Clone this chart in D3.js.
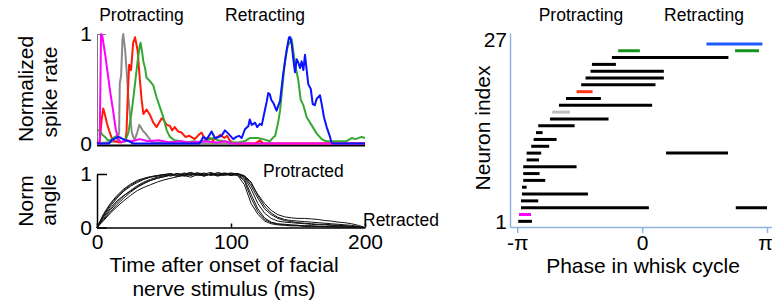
<!DOCTYPE html>
<html>
<head>
<meta charset="utf-8">
<script src="https://cdn.jsdelivr.net/npm/d3@7"></script>
<style>
    body { margin: 0; background: white; }
    svg { font-family: 'Liberation Sans', Arial, sans-serif; }
    .lab { font-size: 21px; fill: black; }
    .note { font-size: 17.5px; fill: black; }
</style>
</head>
<body>
<div id="chart"></div>
<script>
// spike rate traces, [time ms, normalized rate]
var rateMagenta = [[0,0],[2,0],[3,1.0],[4,0.98],[6,0.82],[8,0.64],[10,0.46],[12,0.3],[14,0.13],[16,0.03],[18,0.01],[22,0.03],[26,0.02],[32,0.04],[38,0.02],[46,0.03],[54,0.01],[62,0.02],[70,0.01],[80,0.02],[90,0.01],[96,0.02],[100,0],[200,0]]
var rateGray = [[0,0],[15,0.02],[16.5,0.1],[17,0.55],[18,0.62],[19,0.95],[19.6,1.0],[21,0.85],[22.5,0.6],[23.5,0.4],[25,0.22],[26,0.1],[28,0.03],[30,0.1],[31.6,0.17],[34,0.12],[37,0.08],[41,0.01],[50,0.01],[60,0.02],[70,0.01],[80,0],[200,0]]
var rateRed = [[0,0],[2,0.02],[3.5,0.22],[4.7,0.32],[6,0.26],[7.5,0.18],[9,0.12],[11,0.05],[13,0.02],[16,0.01],[21,0.02],[22,0.1],[23,0.45],[24,0.72],[25.4,0.67],[27,0.92],[28.4,0.97],[30.3,0.85],[32,0.58],[33.3,0.4],[34.6,0.27],[37,0.31],[39.6,0.26],[42,0.19],[44.5,0.15],[48.3,0.23],[50,0.21],[52,0.17],[54.5,0.16],[56,0.12],[58,0.15],[60.5,0.11],[63,0.1],[66,0.06],[69,0.07],[73,0.04],[76,0.08],[78,0.1],[80.6,0.04],[84,0.05],[86.6,0.03],[90,0.06],[92,0.08],[95,0.05],[97,0.07],[99,0.03],[101,0.01],[105,0],[118,0],[121.6,0.03],[124,0],[200,0]]
var rateGreen = [[0,0.12],[2,0.12],[4,0.08],[6,0.06],[8,0.03],[10,0.03],[12,0.05],[14.7,0.07],[16,0.04],[18,0.01],[21,0.02],[23.4,0.1],[26,0.3],[28.4,0.55],[30.3,0.75],[32,0.9],[32.5,0.92],[33.5,0.85],[34.6,0.75],[36,0.68],[37,0.6],[39.5,0.57],[42,0.53],[44.5,0.42],[47,0.33],[49.5,0.24],[52,0.12],[54.5,0.06],[58,0.03],[62,0.02],[66,0.01],[72,0.02],[77,0.01],[82,0.03],[86.8,0.05],[90,0.03],[95,0.02],[100,0.01],[105,0.01],[110,0.02],[114,0.05],[117,0.05],[120,0.05],[124,0.04],[129,0.02],[131,0.05],[133,0.07],[135.3,0.2],[136.6,0.3],[137.8,0.45],[139,0.6],[140.3,0.75],[141.5,0.84],[142.5,0.9],[144,0.92],[145.3,0.95],[146.5,0.84],[147.8,0.73],[149,0.65],[150.2,0.58],[152,0.4],[154,0.35],[156.5,0.24],[160,0.17],[164,0.09],[167.7,0.04],[171,0.02],[180,0.02],[186,0.02],[190,0.05],[193,0.04],[197.5,0.06],[200,0.05]]
var rateBlue = [[0,0],[9,0],[11,0.03],[14,0.05],[16,0.06],[18,0.05],[21,0.03],[24,0.02],[27,0],[76,0],[77,0.01],[79.3,0.06],[82,0.04],[85.5,0.11],[88,0.05],[91,0.06],[93,0.07],[95.5,0.12],[98,0.09],[101.7,0.04],[104,0.06],[106,0.07],[108,0.05],[110.4,0.13],[113,0.16],[114,0.22],[115.5,0.17],[118,0.19],[119.5,0.15],[121.6,0.18],[123,0.17],[125.4,0.31],[126.6,0.38],[127.8,0.46],[129,0.45],[130,0.4],[131.6,0.37],[134,0.3],[136.6,0.39],[139,0.64],[141.5,0.85],[143.3,0.97],[144.3,0.97],[145.3,0.91],[146.5,0.77],[147.8,0.65],[149,0.77],[150.2,0.74],[151.5,0.69],[152.7,0.75],[154,0.67],[155.2,0.81],[156.4,0.68],[157.7,0.54],[159.5,0.5],[161,0.36],[162.5,0.35],[164,0.41],[166.4,0.44],[167.7,0.36],[169.4,0.24],[171.4,0.15],[173.9,0.06],[175,0.01],[176,0],[200,0]]

// whisker angle traces, one value per angleTime entry
var angleTime = [0,5,10,15,20,25,30,35,40,45,50,55,60,65,70,75,80,85,90,95,100,105,110,115,120,125,130,135,140,145,150,155,160,165,170,175,180,185,190,195,200]
var angle1 = [0,.26,.45,.6,.72,.81,.88,.92,.95,.97,.99,1.0,.98,1.02,.99,1.02,.98,1.0,.99,1.02,1.0,.97,.80,.45,.25,.12,.07,.05,.04,.03,.03,.02,.02,.02,.01,.01,.01,.01,0,0,0]
var angle2 = [0,.13,.27,.39,.5,.6,.69,.75,.8,.85,.89,.92,.95,.97,.94,.99,.96,1.0,.97,1.0,1.02,1.0,.96,.82,.62,.45,.32,.24,.2,.18,.17,.17,.16,.15,.13,.12,.1,.09,.07,.04,0]
var angle3 = [0,.22,.4,.55,.68,.77,.84,.9,.94,.96,.99,.96,1.01,.98,1.02,.97,1.0,1.03,.98,1.0,.97,.99,.9,.62,.35,.18,.1,.07,.06,.05,.04,.03,.03,.02,.02,.02,.01,.01,.01,0,0]
var angle4 = [0,.17,.33,.47,.59,.69,.78,.85,.9,.94,.97,.99,.95,1.0,.97,1.01,.96,1.01,1.0,.97,1.0,1.01,.93,.72,.45,.27,.17,.12,.1,.09,.08,.07,.06,.05,.05,.04,.04,.03,.02,.01,0]
var angle5 = [0,.2,.36,.5,.6,.68,.76,.83,.88,.92,.95,.98,1.01,.96,1.0,.99,1.02,.97,1.0,1.01,.98,1.0,.95,.78,.55,.35,.24,.17,.13,.11,.09,.08,.07,.06,.06,.05,.04,.03,.02,.01,0]
var angle6 = [0,.24,.43,.58,.7,.79,.86,.91,.95,.97,.99,1.01,.97,1.0,1.03,.99,.97,1.0,.96,.99,1.01,.98,.87,.55,.3,.15,.09,.06,.05,.04,.04,.03,.03,.02,.02,.02,.01,.01,0,0,0]
var angle7 = [0,.15,.29,.43,.55,.66,.75,.82,.88,.92,.95,.98,1.0,.97,1.0,1.02,1.0,.98,1.03,1.0,.98,1.01,.97,.85,.6,.4,.27,.19,.15,.13,.12,.11,.1,.09,.08,.07,.06,.05,.04,.02,0]

// phase preference per neuron: row, start and end phase (in units of pi)
var phaseRow   = [1, 2, 3, 3, 4, 5, 6, 7, 8, 9, 10, 11, 11, 12, 13, 14, 15, 16, 17, 18, 19, 20, 21, 22, 23, 24, 25, 26, 26, 27]
var phaseStart = [-0.992, -0.986, -0.970, 0.750, -0.970, -0.962, -0.962, -0.952, -0.952, -0.952, -0.925, -0.925, 0.192, -0.888, -0.869, -0.850, -0.832, -0.738, -0.720, -0.666, -0.610, -0.525, -0.488, -0.453, -0.413, -0.402, -0.242, -0.192, 0.744, 0.515]
var phaseEnd   = [-0.882, -0.890, 0.054, 1.0, -0.832, -0.434, -0.925, -0.776, -0.821, -0.525, -0.826, -0.808, 0.688, -0.744, -0.685, -0.797, -0.541, -0.269, -0.578, 0.080, -0.330, -0.397, 0.107, 0.174, 0.174, -0.210, 0.691, -0.018, 0.936, 0.963]
// rows that are the example neurons of the left panel
var exampleRow = { 2: 'magenta', 17: 'gray', 20: 'red', 26: 'green', 27: 'blue' }

var rateColor = { magenta: '#ff00ff', gray: '#8a8a8a', red: '#ff1a0a', green: '#35a834', blue: '#0a14ff' }
var barColor = { magenta: '#ff00ff', gray: '#bdbdbd', red: '#ff3515', green: '#16921a', blue: '#1f5cff', none: '#000000' }

function WhiskChart(display) {

    var svg = d3.select(display).append('svg')
        .attr('width', 772)
        .attr('height', 307)

    svg.append('rect').attr('width', '100%').attr('height', '100%').attr('fill', 'white')

    var tScale = d3.scaleLinear().domain([0, 200]).range([97, 365])

    this.draw = function () {
        drawRate()
        drawAngle()
        drawPhase()
    }

    function styleText(axis) {
        axis.selectAll('text').attr('class', 'lab').attr('font-size', null).attr('font-family', null)
    }

    function drawRate() {
        var y = d3.scaleLinear().domain([0, 1]).range([143.5, 34])
        var g = svg.append('g').attr('id', 'rate')

        g.append('line')
            .attr('x1', tScale(0)).attr('x2', tScale(200))
            .attr('y1', 145.5).attr('y2', 145.5)
            .attr('stroke', 'black').attr('stroke-width', 2)

        var yAxis = g.append('g')
            .attr('transform', 'translate(' + tScale(0) + ',0)')
            .call(d3.axisLeft(y).tickValues([0, 1]).tickFormat(d3.format('d')).tickSizeInner(-9).tickSizeOuter(0).tickPadding(5))
        yAxis.selectAll('path, line').attr('stroke', '#777')
        styleText(yAxis)

        var line = d3.line()
            .x(function (d) { return tScale(d[0]) })
            .y(function (d) { return y(d[1]) })

        var series = [['gray', rateGray], ['red', rateRed], ['green', rateGreen], ['magenta', rateMagenta], ['blue', rateBlue]]
        series.forEach(function (s) {
            g.append('path')
                .attr('d', line(s[1]))
                .attr('fill', 'none')
                .attr('stroke', rateColor[s[0]])
                .attr('stroke-width', 2)
                .attr('stroke-linejoin', 'round')
        })

        g.append('text').attr('class', 'note').attr('x', 141.5).attr('y', 21).attr('text-anchor', 'middle').text('Protracting')
        g.append('text').attr('class', 'note').attr('x', 265).attr('y', 21).attr('text-anchor', 'middle').text('Retracting')

        g.append('text').attr('class', 'lab').attr('text-anchor', 'middle')
            .attr('transform', 'translate(33,89) rotate(-90)').text('Normalized')
        g.append('text').attr('class', 'lab').attr('text-anchor', 'middle')
            .attr('transform', 'translate(57,92) rotate(-90)').text('spike rate')
    }

    function drawAngle() {
        var y = d3.scaleLinear().domain([0, 1]).range([227.5, 174])
        var g = svg.append('g').attr('id', 'angle')

        var xAxis = g.append('g')
            .attr('transform', 'translate(0,' + y(0) + ')')
            .call(d3.axisBottom(tScale).tickValues([0, 100, 200]).tickSizeInner(-4).tickSizeOuter(0).tickPadding(7))
        xAxis.selectAll('path, line').attr('stroke', 'black').attr('stroke-width', 1.5)
        styleText(xAxis)

        var yAxis = g.append('g')
            .attr('transform', 'translate(' + tScale(0) + ',0)')
            .call(d3.axisLeft(y).tickValues([0, 1]).tickFormat(d3.format('d')).tickSizeInner(-10).tickSizeOuter(0).tickPadding(5))
        yAxis.selectAll('path, line').attr('stroke', 'black').attr('stroke-width', 1.5)
        styleText(yAxis)

        var line = d3.line()
            .x(function (d, i) { return tScale(angleTime[i]) })
            .y(function (d) { return y(d) })

        var traces = [angle1, angle2, angle3, angle4, angle5, angle6, angle7]
        traces.forEach(function (tr) {
            g.append('path')
                .attr('d', line(tr))
                .attr('fill', 'none')
                .attr('stroke', '#111')
                .attr('stroke-width', 1)
        })

        g.append('text').attr('class', 'note').attr('x', 263).attr('y', 177).text('Protracted')
        g.append('text').attr('class', 'note').attr('x', 363).attr('y', 226).text('Retracted')

        g.append('text').attr('class', 'lab').attr('text-anchor', 'middle')
            .attr('transform', 'translate(33,201) rotate(-90)').text('Norm')
        g.append('text').attr('class', 'lab').attr('text-anchor', 'middle')
            .attr('transform', 'translate(56,200) rotate(-90)').text('angle')

        g.append('text').attr('class', 'lab').attr('x', 224).attr('y', 272).attr('text-anchor', 'middle').text('Time after onset of facial')
        g.append('text').attr('class', 'lab').attr('x', 224).attr('y', 296).attr('text-anchor', 'middle').text('nerve stimulus (ms)')
    }

    function drawPhase() {
        var x = d3.scaleLinear().domain([-1.058, 1.04]).range([510, 772])
        var y = d3.scaleLinear().domain([0.17, 28.6]).range([227, 33])
        var g = svg.append('g').attr('id', 'phase')
        var axisColor = '#8fb3df'

        var xAxis = g.append('g')
            .attr('transform', 'translate(0,' + y.range()[0] + ')')
            .call(d3.axisBottom(x).tickValues([-1, 0, 1]).tickSizeInner(6).tickSizeOuter(0).tickPadding(2)
                .tickFormat(function (d) { return d === -1 ? '-π' : d === 1 ? 'π' : '0' }))
        xAxis.selectAll('path, line').attr('stroke', axisColor).attr('stroke-width', 1.5)
        styleText(xAxis)
        // keep the pi label inside the picture
        xAxis.selectAll('text').filter(function (d) { return d === 1 }).attr('dx', '-0.1em')

        var yAxis = g.append('g')
            .attr('transform', 'translate(' + x.range()[0] + ',0)')
            .call(d3.axisLeft(y).tickValues([1, 27]).tickSize(0).tickPadding(3))
        yAxis.selectAll('path, line').attr('stroke', axisColor).attr('stroke-width', 1.5)
        styleText(yAxis)
        yAxis.selectAll('text').attr('dy', function (d) { return d === 27 ? '0.1em' : '0.32em' })

        phaseRow.forEach(function (row, i) {
            var key = exampleRow[row] || 'none'
            g.append('line')
                .attr('x1', x(phaseStart[i])).attr('x2', x(phaseEnd[i]))
                .attr('y1', y(row)).attr('y2', y(row))
                .attr('stroke', barColor[key])
                .attr('stroke-width', 3)
        })

        g.append('text').attr('class', 'note').attr('x', 581).attr('y', 21).attr('text-anchor', 'middle').text('Protracting')
        g.append('text').attr('class', 'note').attr('x', 704).attr('y', 21).attr('text-anchor', 'middle').text('Retracting')

        g.append('text').attr('class', 'lab').attr('text-anchor', 'middle')
            .attr('transform', 'translate(490,128) rotate(-90)').text('Neuron index')
        g.append('text').attr('class', 'lab').attr('x', 643).attr('y', 273).attr('text-anchor', 'middle').text('Phase in whisk cycle')
    }
}

new WhiskChart('#chart').draw()
</script>
</body>
</html>
